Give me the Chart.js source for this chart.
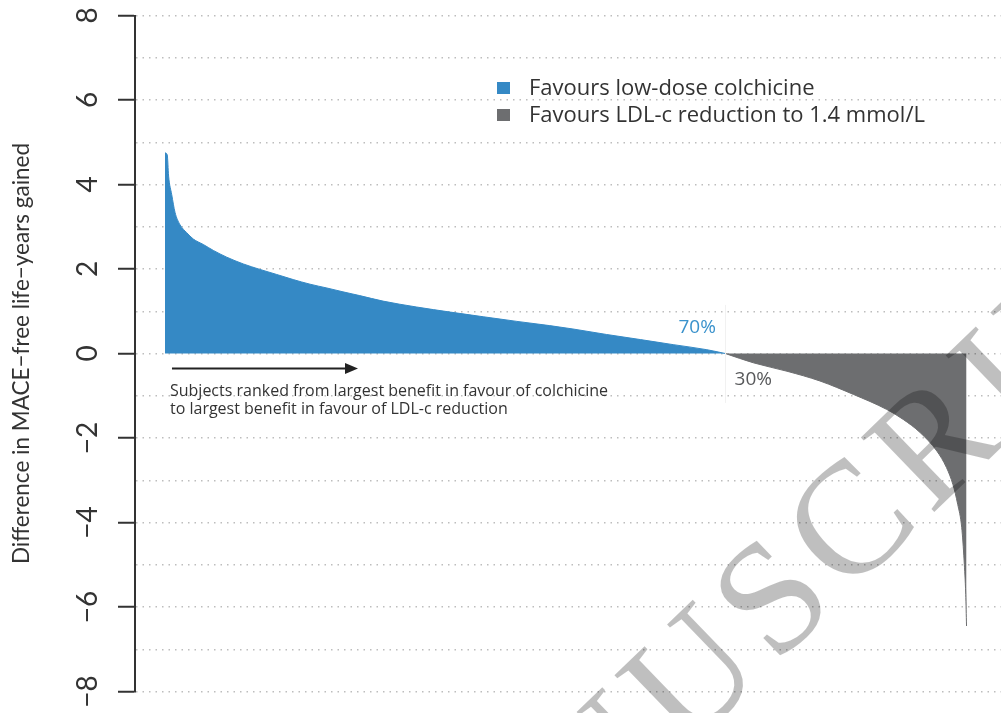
<!DOCTYPE html>
<html>
<head>
<meta charset="utf-8">
<script src="https://cdn.jsdelivr.net/npm/chart.js@4.4.0/dist/chart.umd.min.js"></script>
<style>
  html, body { margin: 0; padding: 0; background: #ffffff; }
  #wrap { width: 1001px; height: 713px; }
</style>
</head>
<body>
<div id="wrap"><canvas id="chart" width="1001" height="713"></canvas></div>
<script>
// Subjects ranked by benefit: position in the ranking (% of subjects) and
// difference in MACE-free life-years (colchicine minus LDL-c reduction).
const colchicineRank = [0, 0.28, 0.45, 0.84, 1.25, 1.87, 2.71, 3.53, 4.78, 6.03, 7.70, 9.77, 11.85, 13.94, 16.0, 18.1, 20.2, 22.2, 24.3, 27.2, 31.4, 35.6, 39.7, 43.9, 48.0, 50.9, 55.1, 59.3, 63.4, 67.6, 69.9];
const colchicineDiff = [4.75, 4.70, 4.20, 3.76, 3.34, 3.05, 2.86, 2.71, 2.58, 2.44, 2.28, 2.12, 1.99, 1.87, 1.75, 1.64, 1.55, 1.46, 1.37, 1.24, 1.10, 0.98, 0.87, 0.76, 0.66, 0.58, 0.45, 0.33, 0.21, 0.09, 0.0];
const ldlRank = [69.9, 73.4, 77.6, 81.7, 85.9, 90.0, 92.1, 94.2, 96.3, 97.5, 98.3, 98.9, 99.4, 99.7, 99.9, 100];
const ldlDiff = [0, -0.22, -0.42, -0.65, -0.97, -1.32, -1.56, -1.87, -2.31, -2.70, -3.10, -3.57, -4.12, -4.91, -5.70, -6.45];

const yTickLabels = [-8, -6, -4, -2, 0, 2, 4, 6, 8];
const legendLabels = ['Favours low-dose colchicine', 'Favours LDL-c reduction to 1.4 mmol/L'];
const shareLabels = ['70%', '30%'];
const rankingNote = ['Subjects ranked from largest benefit in favour of colchicine', 'to largest benefit in favour of LDL-c reduction'];
const axisTitle = 'Difference in MACE\u2212free life\u2212years gained';
const watermarkText = 'ACCEPTED MANUSCRIPT';

const BLUE = '#3589c5';
const GREY = '#6d6e70';
const INK = '#333333';
const SANS = '"Open Sans"';

const toPoints = (xs, ys) => xs.map((x, i) => ({ x: x, y: ys[i] }));

// Rotated value labels on the y axis
const yLabelPlugin = {
  id: 'yLabels',
  afterDraw(chart) {
    const { ctx, scales: { y } } = chart;
    ctx.save();
    ctx.fillStyle = INK;
    ctx.font = '28px Lato';
    ctx.textAlign = 'center';
    ctx.textBaseline = 'alphabetic';
    yTickLabels.forEach(v => {
      const py = y.getPixelForValue(v);
      ctx.save();
      ctx.translate(97, py);
      ctx.rotate(-Math.PI / 2);
      ctx.fillText(v < 0 ? '\u2212' + Math.abs(v) : String(v), 0, 0);
      ctx.restore();
    });
    ctx.restore();
  }
};

// Legend, share labels, ranking arrow and note
const notesPlugin = {
  id: 'notes',
  afterDraw(chart) {
    const { ctx, scales: { x, y } } = chart;
    ctx.save();

    // split marker between the two groups
    const xs = x.getPixelForValue(69.9);
    ctx.strokeStyle = '#f1f1f1';
    ctx.lineWidth = 1;
    ctx.beginPath();
    ctx.moveTo(Math.round(xs) + 0.5, y.getPixelForValue(1.15));
    ctx.lineTo(Math.round(xs) + 0.5, y.getPixelForValue(-1.17));
    ctx.stroke();

    // legend
    const legendColors = [BLUE, GREY];
    ctx.font = '22px ' + SANS;
    ctx.textBaseline = 'middle';
    ctx.textAlign = 'left';
    legendLabels.forEach((t, i) => {
      const cy = 88 + i * 27;
      ctx.fillStyle = legendColors[i];
      ctx.fillRect(497, cy - 6, 13, 12);
      ctx.fillStyle = INK;
      ctx.fillText(t, 529, cy + 1);
    });

    // share labels
    ctx.font = '19px ' + SANS;
    ctx.textAlign = 'center';
    ctx.fillStyle = '#3a92cc';
    ctx.fillText(shareLabels[0], x.getPixelForValue(66.4), y.getPixelForValue(0.62));
    ctx.fillStyle = '#58595b';
    ctx.fillText(shareLabels[1], x.getPixelForValue(73.4), y.getPixelForValue(-0.62));

    // ranking arrow
    const ay = y.getPixelForValue(-0.355);
    const ax0 = x.getPixelForValue(0.87);
    const ax1 = x.getPixelForValue(24.08);
    ctx.strokeStyle = '#222222';
    ctx.fillStyle = '#222222';
    ctx.lineWidth = 2;
    ctx.beginPath();
    ctx.moveTo(ax0, ay);
    ctx.lineTo(ax1 - 10, ay);
    ctx.stroke();
    ctx.beginPath();
    ctx.moveTo(ax1, ay);
    ctx.lineTo(ax1 - 13, ay - 5.5);
    ctx.lineTo(ax1 - 13, ay + 5.5);
    ctx.closePath();
    ctx.fill();

    // ranking note
    ctx.font = '16px ' + SANS;
    ctx.textAlign = 'left';
    ctx.fillStyle = INK;
    ctx.fillText(rankingNote[0], x.getPixelForValue(0.62), y.getPixelForValue(-0.89));
    ctx.fillText(rankingNote[1], x.getPixelForValue(0.62), y.getPixelForValue(-1.32));

    ctx.restore();
  }
};

// Diagonal status stamp across the page
const watermarkPlugin = {
  id: 'watermark',
  afterDraw(chart) {
    const ctx = chart.ctx;
    ctx.save();
    ctx.font = '160px "Liberation Serif"';
    ctx.fillStyle = 'rgba(0,0,0,0.25)';
    ctx.textAlign = 'center';
    ctx.textBaseline = 'alphabetic';
    const spacing = 10;
    const centers = [];
    let pos = 0;
    for (const ch of watermarkText) {
      const w = ctx.measureText(ch).width;
      centers.push(pos + w / 2);
      pos += w + spacing;
    }
    const anchor = 14; // the C of MANUSCRIPT
    ctx.translate(848, 522);
    ctx.rotate(-44 * Math.PI / 180);
    const capH = 0.66 * 160;
    [...watermarkText].forEach((ch, i) => {
      ctx.fillText(ch, centers[i] - centers[anchor], capH / 2);
    });
    ctx.restore();
  }
};

new Chart(document.getElementById('chart'), {
  type: 'line',
  data: {
    datasets: [
      {
        label: legendLabels[0],
        data: toPoints(colchicineRank, colchicineDiff),
        borderColor: BLUE,
        backgroundColor: BLUE,
        borderWidth: 1,
        pointRadius: 0,
        fill: 'origin',
        cubicInterpolationMode: 'monotone'
      },
      {
        label: legendLabels[1],
        data: toPoints(ldlRank, ldlDiff),
        borderColor: GREY,
        backgroundColor: GREY,
        borderWidth: 1,
        pointRadius: 0,
        fill: 'origin',
        cubicInterpolationMode: 'monotone'
      }
    ]
  },
  options: {
    responsive: false,
    animation: false,
    devicePixelRatio: 1,
    layout: { padding: { top: 15.5, bottom: 21.5, left: 0, right: 0 } },
    plugins: { legend: { display: false }, tooltip: { enabled: false } },
    scales: {
      x: {
        type: 'linear',
        min: -3.743,
        max: 104.3,
        display: false
      },
      y: {
        min: -8,
        max: 8,
        ticks: { stepSize: 1, display: false },
        grid: {
          color: '#bdbdbd',
          lineWidth: 1.5,
          drawTicks: true,
          tickLength: 17,
          tickWidth: 2,
          tickColor: c => (c.tick && c.tick.value % 2 === 0) ? INK : 'rgba(0,0,0,0)'
        },
        border: { display: true, color: INK, width: 2, dash: [1.5, 5] },
        title: {
          display: true,
          text: axisTitle,
          color: INK,
          font: { family: 'Lato', size: 22.5 },
          padding: { top: 8, bottom: 0 }
        },
        afterFit(scale) { scale.width = 135; }
      }
    }
  },
  plugins: [yLabelPlugin, notesPlugin, watermarkPlugin]
});
</script>
</body>
</html>
